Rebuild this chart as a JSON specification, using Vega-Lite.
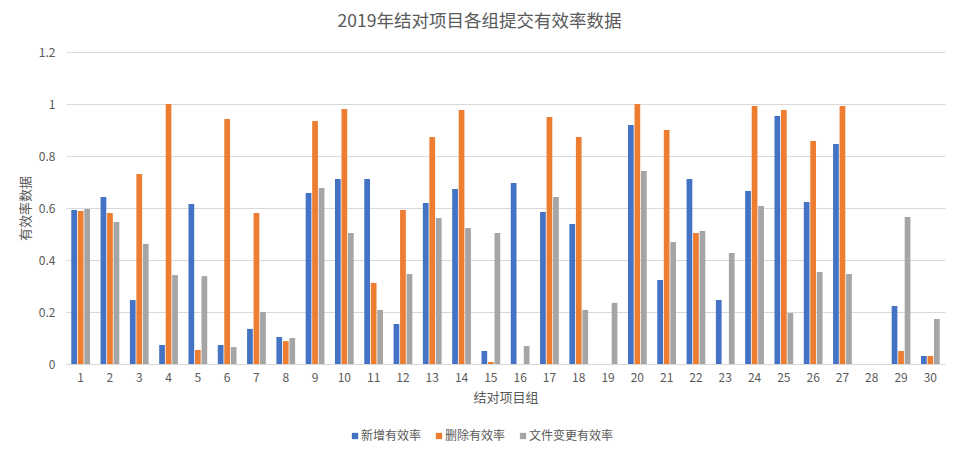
{
  "$schema": "https://vega.github.io/schema/vega-lite/v6.json",
  "autosize": "none",
  "width": 879,
  "height": 312,
  "padding": {"left": 66, "top": 52, "right": 14, "bottom": 93},
  "background": "white",
  "title": {
    "text": "2019年结对项目各组提交有效率数据",
    "font": "Noto Sans CJK SC",
    "fontSize": 17.5,
    "fontWeight": "normal",
    "color": "#595959",
    "anchor": "middle",
    "dx": -26,
    "offset": 16
  },
  "config": {
    "view": {"stroke": null},
    "font": "Noto Sans CJK SC"
  },
  "data": {
    "values": [
      {"group": 1, "series": "新增有效率", "value": 0.592},
      {"group": 1, "series": "删除有效率", "value": 0.588},
      {"group": 1, "series": "文件变更有效率", "value": 0.596},
      {"group": 2, "series": "新增有效率", "value": 0.642},
      {"group": 2, "series": "删除有效率", "value": 0.581},
      {"group": 2, "series": "文件变更有效率", "value": 0.546},
      {"group": 3, "series": "新增有效率", "value": 0.246},
      {"group": 3, "series": "删除有效率", "value": 0.731},
      {"group": 3, "series": "文件变更有效率", "value": 0.462},
      {"group": 4, "series": "新增有效率", "value": 0.073},
      {"group": 4, "series": "删除有效率", "value": 1.0},
      {"group": 4, "series": "文件变更有效率", "value": 0.342},
      {"group": 5, "series": "新增有效率", "value": 0.615},
      {"group": 5, "series": "删除有效率", "value": 0.054},
      {"group": 5, "series": "文件变更有效率", "value": 0.338},
      {"group": 6, "series": "新增有效率", "value": 0.073},
      {"group": 6, "series": "删除有效率", "value": 0.942},
      {"group": 6, "series": "文件变更有效率", "value": 0.065},
      {"group": 7, "series": "新增有效率", "value": 0.135},
      {"group": 7, "series": "删除有效率", "value": 0.581},
      {"group": 7, "series": "文件变更有效率", "value": 0.2},
      {"group": 8, "series": "新增有效率", "value": 0.104},
      {"group": 8, "series": "删除有效率", "value": 0.088},
      {"group": 8, "series": "文件变更有效率", "value": 0.1},
      {"group": 9, "series": "新增有效率", "value": 0.658},
      {"group": 9, "series": "删除有效率", "value": 0.935},
      {"group": 9, "series": "文件变更有效率", "value": 0.677},
      {"group": 10, "series": "新增有效率", "value": 0.712},
      {"group": 10, "series": "删除有效率", "value": 0.981},
      {"group": 10, "series": "文件变更有效率", "value": 0.504},
      {"group": 11, "series": "新增有效率", "value": 0.712},
      {"group": 11, "series": "删除有效率", "value": 0.312},
      {"group": 11, "series": "文件变更有效率", "value": 0.208},
      {"group": 12, "series": "新增有效率", "value": 0.154},
      {"group": 12, "series": "删除有效率", "value": 0.592},
      {"group": 12, "series": "文件变更有效率", "value": 0.346},
      {"group": 13, "series": "新增有效率", "value": 0.619},
      {"group": 13, "series": "删除有效率", "value": 0.873},
      {"group": 13, "series": "文件变更有效率", "value": 0.562},
      {"group": 14, "series": "新增有效率", "value": 0.673},
      {"group": 14, "series": "删除有效率", "value": 0.977},
      {"group": 14, "series": "文件变更有效率", "value": 0.523},
      {"group": 15, "series": "新增有效率", "value": 0.05},
      {"group": 15, "series": "删除有效率", "value": 0.008},
      {"group": 15, "series": "文件变更有效率", "value": 0.504},
      {"group": 16, "series": "新增有效率", "value": 0.696},
      {"group": 16, "series": "删除有效率", "value": 0},
      {"group": 16, "series": "文件变更有效率", "value": 0.069},
      {"group": 17, "series": "新增有效率", "value": 0.585},
      {"group": 17, "series": "删除有效率", "value": 0.95},
      {"group": 17, "series": "文件变更有效率", "value": 0.642},
      {"group": 18, "series": "新增有效率", "value": 0.538},
      {"group": 18, "series": "删除有效率", "value": 0.873},
      {"group": 18, "series": "文件变更有效率", "value": 0.208},
      {"group": 19, "series": "新增有效率", "value": 0},
      {"group": 19, "series": "删除有效率", "value": 0},
      {"group": 19, "series": "文件变更有效率", "value": 0.235},
      {"group": 20, "series": "新增有效率", "value": 0.919},
      {"group": 20, "series": "删除有效率", "value": 1.0},
      {"group": 20, "series": "文件变更有效率", "value": 0.742},
      {"group": 21, "series": "新增有效率", "value": 0.323},
      {"group": 21, "series": "删除有效率", "value": 0.9},
      {"group": 21, "series": "文件变更有效率", "value": 0.469},
      {"group": 22, "series": "新增有效率", "value": 0.712},
      {"group": 22, "series": "删除有效率", "value": 0.504},
      {"group": 22, "series": "文件变更有效率", "value": 0.512},
      {"group": 23, "series": "新增有效率", "value": 0.246},
      {"group": 23, "series": "删除有效率", "value": 0},
      {"group": 23, "series": "文件变更有效率", "value": 0.427},
      {"group": 24, "series": "新增有效率", "value": 0.665},
      {"group": 24, "series": "删除有效率", "value": 0.992},
      {"group": 24, "series": "文件变更有效率", "value": 0.608},
      {"group": 25, "series": "新增有效率", "value": 0.954},
      {"group": 25, "series": "删除有效率", "value": 0.977},
      {"group": 25, "series": "文件变更有效率", "value": 0.196},
      {"group": 26, "series": "新增有效率", "value": 0.623},
      {"group": 26, "series": "删除有效率", "value": 0.858},
      {"group": 26, "series": "文件变更有效率", "value": 0.354},
      {"group": 27, "series": "新增有效率", "value": 0.846},
      {"group": 27, "series": "删除有效率", "value": 0.992},
      {"group": 27, "series": "文件变更有效率", "value": 0.346},
      {"group": 28, "series": "新增有效率", "value": 0},
      {"group": 28, "series": "删除有效率", "value": 0},
      {"group": 28, "series": "文件变更有效率", "value": 0},
      {"group": 29, "series": "新增有效率", "value": 0.223},
      {"group": 29, "series": "删除有效率", "value": 0.05},
      {"group": 29, "series": "文件变更有效率", "value": 0.565},
      {"group": 30, "series": "新增有效率", "value": 0.031},
      {"group": 30, "series": "删除有效率", "value": 0.031},
      {"group": 30, "series": "文件变更有效率", "value": 0.173}
    ]
  },
  "mark": {"type": "bar"},
  "encoding": {
    "x": {
      "field": "group",
      "type": "ordinal",
      "sort": "ascending",
      "scale": {"paddingInner": 0.36, "paddingOuter": 0.18},
      "axis": {
        "title": "结对项目组",
        "titleFont": "Noto Sans CJK SC",
        "titleFontSize": 13,
        "titleFontWeight": "normal",
        "titleColor": "#595959",
        "titlePadding": 8,
        "labelAngle": 0,
        "labelFont": "Noto Sans CJK SC",
        "labelFontSize": 12,
        "labelColor": "#595959",
        "labelPadding": 8,
        "ticks": false,
        "domain": true,
        "domainColor": "#D9D9D9",
        "domainWidth": 1,
        "grid": false
      }
    },
    "xOffset": {
      "field": "series",
      "type": "nominal",
      "sort": ["新增有效率", "删除有效率", "文件变更有效率"],
      "scale": {"paddingInner": 0.12, "paddingOuter": 0}
    },
    "y": {
      "field": "value",
      "type": "quantitative",
      "scale": {"domain": [0, 1.2], "nice": false},
      "axis": {
        "title": "有效率数据",
        "titleFont": "Noto Sans CJK SC",
        "titleFontSize": 13,
        "titleFontWeight": "normal",
        "titleColor": "#595959",
        "titlePadding": 6,
        "values": [0, 0.2, 0.4, 0.6, 0.8, 1, 1.2],
        "format": "~g",
        "labelFont": "Noto Sans CJK SC",
        "labelFontSize": 12,
        "labelColor": "#595959",
        "labelPadding": 11,
        "ticks": false,
        "domain": false,
        "grid": true,
        "gridColor": "#D9D9D9",
        "gridWidth": 1
      }
    },
    "color": {
      "field": "series",
      "type": "nominal",
      "sort": ["新增有效率", "删除有效率", "文件变更有效率"],
      "scale": {
        "domain": ["新增有效率", "删除有效率", "文件变更有效率"],
        "range": ["#4472C4", "#ED7D31", "#A5A5A5"]
      },
      "legend": {
        "title": null,
        "orient": "none",
        "direction": "horizontal",
        "legendX": 283,
        "legendY": 378,
        "symbolType": "square",
        "symbolSize": 40,
        "symbolStrokeWidth": 0,
        "labelFont": "Noto Sans CJK SC",
        "labelFontSize": 12,
        "labelColor": "#595959",
        "labelOffset": 0,
        "columnPadding": 11
      }
    }
  }
}
